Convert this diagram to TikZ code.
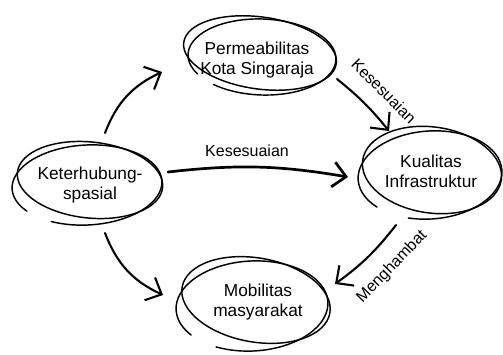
\documentclass[tikz,border=0pt]{standalone}
\usepackage{fontspec}
\setmainfont{Liberation Sans}
\usetikzlibrary{arrows.meta}
\begin{document}
\begin{tikzpicture}[x=1pt,y=-1pt,
  stroke/.style={line width=1.45pt, line cap=round, line join=round},
  conn/.style={line width=2.1pt, line cap=round, line join=round, -{Straight Barb[length=13pt,width=25pt]}},
  lbl/.style={font=\fontsize{16}{19}\selectfont, inner sep=0pt},
  box/.style={align=center, font=\fontsize{17.3}{20}\selectfont, inner sep=0pt}]
\useasboundingbox (0,0) rectangle (503,354);

% nodes
\node[box] (P) at (257,60) {Permeabilitas\\Kota Singaraja};
\node[box] (K) at (90,185) {Keterhubung-\\spasial};
\node[box] (Q) at (431,171) {Kualitas\\Infrastruktur};
\node[box] (M) at (258,302) {Mobilitas\\masyarakat};

% sketchy outlines
\begin{scope}[shift={(P.center)}]
  \draw[stroke, rotate around={-8:(3,-7)}] (3,-7) ellipse[x radius=77, y radius=36];
  \draw[stroke, shift={(5,-3)}, rotate=-2] (150:74 and 38) arc[start angle=150, end angle=490, x radius=74, y radius=38];
\end{scope}
\begin{scope}[shift={(K.center)}]
  \draw[stroke, rotate around={-6:(0,-5)}] (0,-5) ellipse[x radius=73, y radius=38];
  \draw[stroke, shift={(-3,0)}, rotate=3] (145:75 and 40) arc[start angle=145, end angle=480, x radius=75, y radius=40];
\end{scope}
\begin{scope}[shift={(Q.center)}]
  \draw[stroke, rotate around={-8:(1,-1)}] (1,-1) ellipse[x radius=70, y radius=43];
  \draw[stroke, shift={(-1,4)}, rotate=4] (140:72 and 44) arc[start angle=140, end angle=470, x radius=72, y radius=44];
\end{scope}
\begin{scope}[shift={(M.center)}]
  \draw[stroke, rotate around={-10:(-2,-2)}] (-2,-2) ellipse[x radius=75, y radius=42];
  \draw[stroke, shift={(-6,4)}, rotate=3] (145:76 and 45) arc[start angle=145, end angle=480, x radius=76, y radius=45];
\end{scope}

% connectors
\draw[conn] ([shift={(15,-52)}]K.center) to[bend left=22] ([shift={(-95,12)}]P.center);
\draw[conn] ([shift={(15,48)}]K.center) to[bend right=22] ([shift={(-95,-7)}]M.center);
\draw[conn, line width=2.7pt] ([shift={(78,-13)}]K.center) to[bend left=8] ([shift={(-83,6)}]Q.center);
\draw[conn] ([shift={(80,19)}]P.center) to[bend left=6] ([shift={(-42,-40)}]Q.center);
\draw[conn] ([shift={(-35,54)}]Q.center) to[bend left=8] ([shift={(77,-18)}]M.center);

% labels
\node[lbl, rotate=-45] (l2) at (384,91) {Kesesuaian};
\node[lbl] (l1) at (247,151) {Kesesuaian};
\node[lbl, rotate=46] (l3) at (392,267) {Menghambat};
\end{tikzpicture}
\end{document}
